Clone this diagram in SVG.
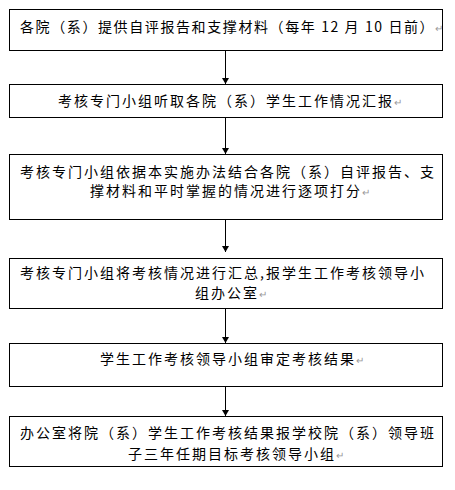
<svg xmlns="http://www.w3.org/2000/svg" width="455" height="490" viewBox="0 0 455 490">
<style>
.box{fill:#fff;stroke:#000;stroke-width:1}
.t{font-family:"Noto Sans CJK SC","Noto Sans",sans-serif;font-size:14px;letter-spacing:2px;fill:#000}
.pm{font-size:10px;letter-spacing:0;fill:#999}
.ln{stroke:#000;stroke-width:1;fill:none}
</style>
<defs>
<marker id="ah" markerWidth="8" markerHeight="7" refX="6" refY="3.5" orient="auto" markerUnits="userSpaceOnUse">
<path d="M0,0 L6,3.5 L0,7 Z" fill="#000"/>
</marker>
</defs>
<rect width="455" height="490" fill="#fff"/>
<g id="connectors">
<line class="ln" x1="225.5" y1="51" x2="225.5" y2="84" marker-end="url(#ah)"/>
<line class="ln" x1="225.5" y1="118" x2="225.5" y2="154" marker-end="url(#ah)"/>
<line class="ln" x1="225.5" y1="219" x2="225.5" y2="252" marker-end="url(#ah)"/>
<line class="ln" x1="225.5" y1="309" x2="225.5" y2="343" marker-end="url(#ah)"/>
<line class="ln" x1="225.5" y1="386" x2="225.5" y2="416" marker-end="url(#ah)"/>
</g>
<g id="n1">
<rect class="box" x="9.5" y="9.5" width="433" height="41"/>
<text class="t" x="20" y="32" style="letter-spacing:1.6px">各院（系）提供自评报告和支撑材料（每年 12 月 10 日前）<tspan class="pm">↵</tspan></text>
</g>
<g id="n2">
<rect class="box" x="9.5" y="84.5" width="433" height="33"/>
<text class="t" x="58" y="106">考核专门小组听取各院（系）学生工作情况汇报<tspan class="pm">↵</tspan></text>
</g>
<g id="n3">
<rect class="box" x="9.5" y="154.5" width="433" height="65"/>
<text class="t" x="20" y="177">考核专门小组依据本实施办法结合各院（系）自评报告、支</text>
<text class="t" x="90" y="196">撑材料和平时掌握的情况进行逐项打分<tspan class="pm">↵</tspan></text>
</g>
<g id="n4">
<rect class="box" x="9.5" y="258.5" width="433" height="50"/>
<text class="t" x="20" y="278">考核专门小组将考核情况进行汇总,报学生工作考核领导小</text>
<text class="t" x="195" y="298">组办公室<tspan class="pm">↵</tspan></text>
</g>
<g id="n5">
<rect class="box" x="9.5" y="343.5" width="433" height="43"/>
<text class="t" x="100" y="364">学生工作考核领导小组审定考核结果<tspan class="pm">↵</tspan></text>
</g>
<g id="n6">
<rect class="box" x="9.5" y="416.5" width="433" height="50"/>
<text class="t" x="20" y="438">办公室将院（系）学生工作考核结果报学校院（系）领导班</text>
<text class="t" x="128" y="459">子三年任期目标考核领导小组<tspan class="pm">↵</tspan></text>
</g>
</svg>
